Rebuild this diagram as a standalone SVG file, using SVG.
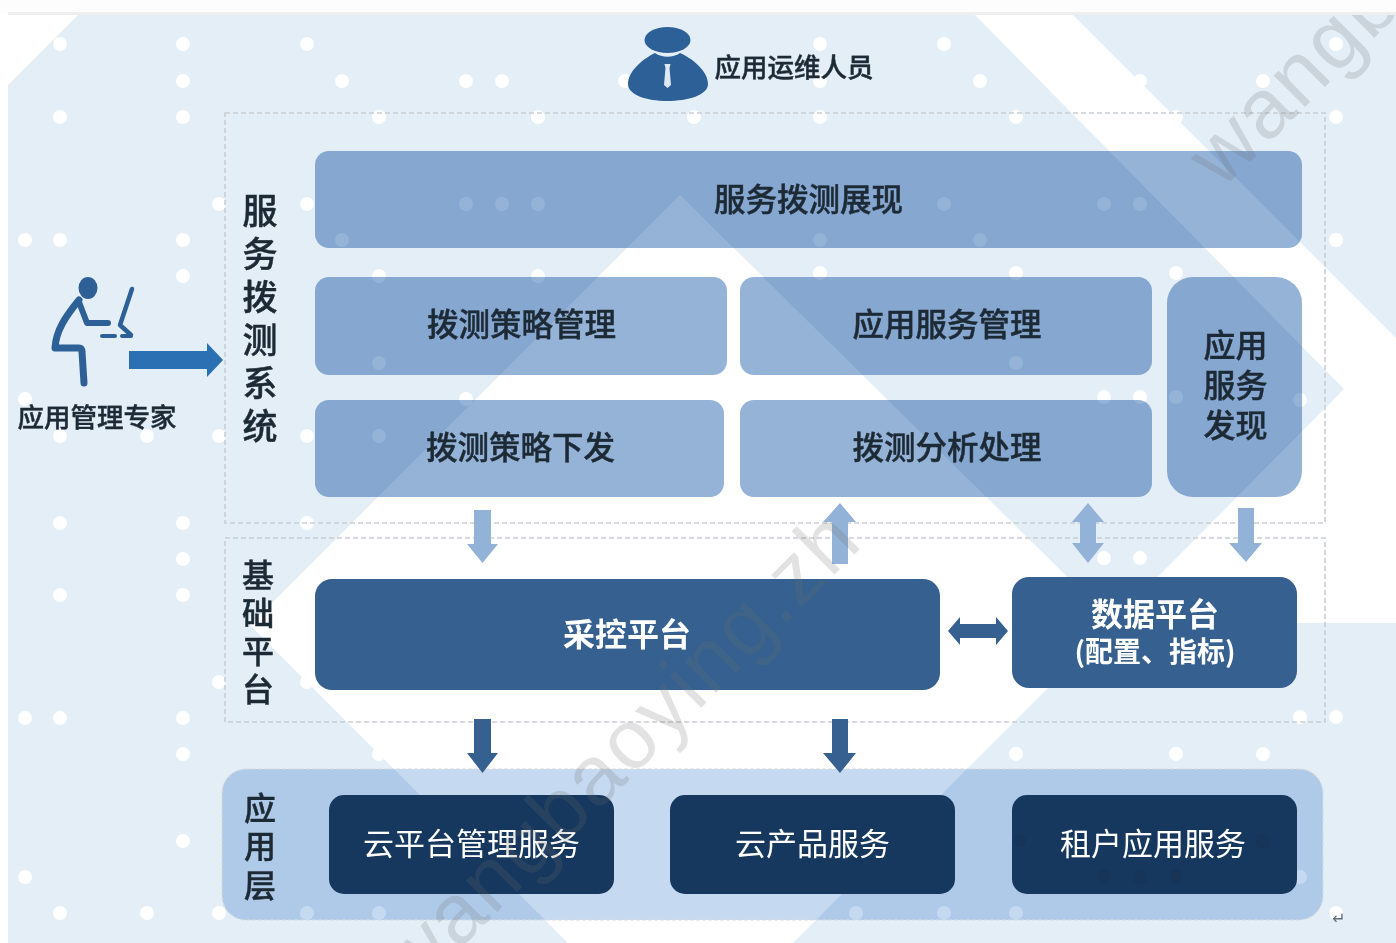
<svg xmlns="http://www.w3.org/2000/svg" width="1396" height="943" viewBox="0 0 1396 943">
<style>
text{font-family:"Noto Sans CJK SC","Noto Sans",sans-serif;text-anchor:middle}
.d{fill:#1f2a36;font-weight:500;stroke:#1f2a36;stroke-width:.45}
.w{fill:#fff}
.b{font-weight:700}
.lb{fill:#95b3d7;mix-blend-mode:multiply}
.mid{fill:#36618f}
.dark{fill:#17375e}
.frame{fill:none;stroke:#c9ced3;stroke-width:1.6;stroke-dasharray:5 3}
.ar1{fill:#93b2d8}
.ar2{fill:#36618f}
.icon{fill:#2f6198}
.ln{fill:none;stroke:#2f6198;stroke-linecap:round;stroke-linejoin:round}
.wm{font-family:"Liberation Sans",Arial,sans-serif;fill:#6d6d6d;fill-opacity:.2;text-anchor:start;letter-spacing:2.2px}
.spot{fill:#183459}
</style>
<defs>
<clipPath id="pg"><rect x="8" y="15" width="1388" height="928"/></clipPath>
<filter id="soft" x="0" y="0" width="100%" height="100%"><feGaussianBlur stdDeviation="0.55"/></filter>
</defs>
<g filter="url(#soft)">
<rect width="1396" height="943" fill="#fff"/>
<g id="background">
<rect x="0" y="0" width="1396" height="13" fill="#fdfdfd"/>
<rect x="8" y="12" width="1388" height="3" fill="#eeeeee"/>
<rect x="8" y="15" width="1388" height="928" fill="#e3eef7"/>
<g fill="#fff" clip-path="url(#pg)">
<polygon points="8,15 78,15 8,85"/>
<polygon points="680,195 250,625 568,943 793,943 1113,623 1396,623 1396,338 1073,15 975,15 1344,389 1113,622"/>
<g id="dots">
<circle r="7" cx="60" cy="44"/><circle r="7" cx="183" cy="44"/><circle r="7" cx="307" cy="44"/><circle r="7" cx="820" cy="44"/><circle r="7" cx="944" cy="44"/><circle r="7" cx="1336" cy="44"/>
<circle r="7" cx="183" cy="81"/><circle r="7" cx="342" cy="81"/><circle r="7" cx="466" cy="81"/><circle r="7" cx="502" cy="81"/><circle r="7" cx="625" cy="81"/><circle r="7" cx="820" cy="81"/><circle r="7" cx="980" cy="81"/><circle r="7" cx="1140" cy="81"/><circle r="7" cx="1263" cy="81"/>
<circle r="7" cx="60" cy="117"/><circle r="7" cx="183" cy="117"/><circle r="7" cx="379" cy="117"/><circle r="7" cx="538" cy="117"/><circle r="7" cx="694" cy="117"/><circle r="7" cx="820" cy="117"/><circle r="7" cx="1016" cy="117"/><circle r="7" cx="1176" cy="117"/><circle r="7" cx="1336" cy="117"/>
<circle r="7" cx="219" cy="204"/><circle r="7" cx="307" cy="204"/><circle r="7" cx="466" cy="204"/><circle r="7" cx="502" cy="204"/><circle r="7" cx="538" cy="204"/><circle r="7" cx="944" cy="204"/><circle r="7" cx="1104" cy="204"/><circle r="7" cx="1140" cy="204"/>
<circle r="7" cx="25" cy="240"/><circle r="7" cx="60" cy="240"/><circle r="7" cx="183" cy="240"/><circle r="7" cx="342" cy="240"/><circle r="7" cx="820" cy="240"/><circle r="7" cx="980" cy="240"/><circle r="7" cx="1336" cy="240"/>
<circle r="7" cx="183" cy="276"/><circle r="7" cx="379" cy="276"/><circle r="7" cx="538" cy="276"/><circle r="7" cx="820" cy="273"/><circle r="7" cx="1016" cy="273"/><circle r="7" cx="1176" cy="273"/>
<circle r="7" cx="379" cy="363"/><circle r="7" cx="1016" cy="363"/>
<circle r="7" cx="25" cy="399"/><circle r="7" cx="466" cy="399"/><circle r="7" cx="1104" cy="397"/><circle r="7" cx="1140" cy="397"/><circle r="7" cx="1176" cy="397"/><circle r="7" cx="1300" cy="400"/>
<circle r="7" cx="60" cy="436"/><circle r="7" cx="147" cy="436"/><circle r="7" cx="219" cy="436"/><circle r="7" cx="307" cy="436"/><circle r="7" cx="379" cy="436"/>
<circle r="7" cx="60" cy="523"/><circle r="7" cx="183" cy="523"/><circle r="7" cx="307" cy="523"/>
<circle r="7" cx="183" cy="559"/><circle r="7" cx="1104" cy="558"/><circle r="7" cx="1140" cy="558"/>
<circle r="7" cx="60" cy="595"/><circle r="7" cx="183" cy="595"/>
<circle r="7" cx="219" cy="682"/><circle r="7" cx="307" cy="682"/>
<circle r="7" cx="25" cy="718"/><circle r="7" cx="60" cy="718"/><circle r="7" cx="183" cy="718"/><circle r="7" cx="1300" cy="717"/><circle r="7" cx="1336" cy="717"/>
<circle r="7" cx="183" cy="754"/><circle r="7" cx="379" cy="754"/><circle r="7" cx="1016" cy="754"/><circle r="7" cx="1176" cy="754"/><circle r="7" cx="1263" cy="754"/>
<circle r="7" cx="183" cy="841"/>
<circle r="7" cx="25" cy="877"/><circle r="7" cx="1300" cy="877"/>
<circle r="7" cx="60" cy="913"/><circle r="7" cx="147" cy="913"/><circle r="7" cx="219" cy="913"/><circle r="7" cx="307" cy="913"/><circle r="7" cx="379" cy="913"/><circle r="7" cx="856" cy="913"/><circle r="7" cx="944" cy="913"/><circle r="7" cx="1016" cy="913"/><circle r="7" cx="1336" cy="913"/>
</g>
</g>
</g>
<g id="frame-probe"><rect class="frame" x="225" y="113" width="1100" height="410"/><text class="d" font-size="35"><tspan x="260" y="224">服</tspan><tspan x="260" y="267">务</tspan><tspan x="260" y="310">拨</tspan><tspan x="260" y="353">测</tspan><tspan x="260" y="396">系</tspan><tspan x="260" y="439">统</tspan></text></g>
<g id="frame-platform"><rect class="frame" x="225" y="538" width="1100" height="184"/><text class="d" font-size="32"><tspan x="258" y="587">基</tspan><tspan x="258" y="625">础</tspan><tspan x="258" y="663">平</tspan><tspan x="258" y="701">台</tspan></text></g>
<g id="app-layer"><rect x="222" y="769" width="1101" height="151" rx="24" fill="#c5d9f1" style="mix-blend-mode:multiply"/><rect x="222" y="769" width="1101" height="151" rx="24" fill="none" stroke="#d9dcdc" stroke-width="1.2" stroke-dasharray="4 2"/><text class="d" font-size="32"><tspan x="260" y="820">应</tspan><tspan x="260" y="858">用</tspan><tspan x="260" y="897">层</tspan></text></g>
<g id="node-ops"><ellipse class="icon" cx="667.5" cy="40" rx="23" ry="13"/><path class="icon" d="M655 53C662 58 673 58 680 53C695 60 708 72 708 84C708 95 688 101 667 101C647 101 628 95 628 84C628 72 641 60 655 53Z"/><path fill="#dfe9f3" d="M664.500 64H670.500L669.500 68L671 85L667.500 88L664 85L665.500 68Z"/><text class="d" font-size="26.500" x="794" y="77">应用运维人员</text></g>
<g id="node-expert"><ellipse class="icon" cx="88" cy="288" rx="9.500" ry="11"/><path class="ln" stroke-width="7" d="M79 300C66 316 56 330 55 348H79Q82 348 82 352L84 383"/><path class="ln" stroke-width="6" d="M79 302L87 323H108"/><path class="ln" stroke-width="4" d="M102 336H115M122 336H131"/><path class="ln" stroke-width="4.500" d="M132 289L120 325L131 335"/><text class="d" font-size="26.500" x="97" y="427">应用管理专家</text></g>
<g id="node-display"><rect class="lb" x="315" y="151" width="987" height="97" rx="14"/><text class="d" font-size="31.500" x="808.500" y="211">服务拨测展现</text></g>
<g id="node-strategy"><rect class="lb" x="315" y="277" width="412" height="98" rx="14"/><text class="d" font-size="31.500" x="521.500" y="336">拨测策略管理</text></g>
<g id="node-appsvc"><rect class="lb" x="740" y="277" width="412" height="98" rx="14"/><text class="d" font-size="31.500" x="947" y="336">应用服务管理</text></g>
<g id="node-dispatch"><rect class="lb" x="315" y="400" width="409" height="97" rx="14"/><text class="d" font-size="31.500" x="520.500" y="459">拨测策略下发</text></g>
<g id="node-analysis"><rect class="lb" x="740" y="400" width="412" height="97" rx="14"/><text class="d" font-size="31.500" x="947" y="459">拨测分析处理</text></g>
<g id="node-discovery"><rect class="lb" x="1167" y="277" width="135" height="220" rx="26"/><text class="d" font-size="32"><tspan x="1235.500" y="357">应用</tspan><tspan x="1235.500" y="397">服务</tspan><tspan x="1235.500" y="437">发现</tspan></text></g>
<g id="node-control"><rect class="mid" x="315" y="579" width="625" height="111" rx="17"/><text class="w b" font-size="32" x="627" y="646">采控平台</text></g>
<g id="node-data"><rect class="mid" x="1012" y="577" width="285" height="111" rx="17"/><text class="w b" font-size="32" x="1155" y="626">数据平台</text><text class="w b" font-size="28" x="1155" y="662">(配置、指标)</text></g>
<g id="node-cloud"><rect class="dark" x="329" y="795" width="285" height="99" rx="15"/><text class="w" font-size="31" x="471.500" y="855">云平台管理服务</text></g>
<g id="node-product"><rect class="dark" x="670" y="795" width="285" height="99" rx="15"/><text class="w" font-size="31" x="812.500" y="855">云产品服务</text></g>
<g id="node-tenant"><rect class="dark" x="1012" y="795" width="285" height="99" rx="15"/><circle class="spot" r="6" cx="1020" cy="841"/><circle class="spot" r="7" cx="1263" cy="841"/><circle class="spot" r="7" cx="1104" cy="877"/><circle class="spot" r="7" cx="1140" cy="877"/><circle class="spot" r="7" cx="1176" cy="877"/><text class="w" font-size="31" x="1153" y="855">租户应用服务</text></g>
<g id="connectors">
<polygon fill="#2b70b2" points="129,351 207,351 207,343 223,360 207,377 207,369 129,369"/>
<polygon class="ar1" points="474,510 491,510 491,544 498,544 482.500,563 467,544 474,544"/>
<polygon class="ar1" points="832,564 848,564 848,522 856,522 840,503 823,522 832,522"/>
<polygon class="ar1" points="1080,522 1096,522 1096,543 1104,543 1088,563 1072,543 1080,543 1080,522 1072,522 1088,503 1104,522"/>
<polygon class="ar1" points="1238,508 1254,508 1254,543 1262,543 1246,562 1229,543 1238,543"/>
<polygon class="ar2" points="474,719 491,719 491,753 498,753 482.500,773 467,753 474,753"/>
<polygon class="ar2" points="832,719 848,719 848,753 856,753 840,773 823,753 832,753"/>
<polygon class="ar2" points="948,631 960,617 960,624 996,624 996,617 1008,631 996,645 996,638 960,638 960,645"/>
</g>
<g id="watermark" clip-path="url(#pg)">
<text class="wm" font-size="84" transform="translate(414,995) rotate(-45)">wangbaoying.zh</text>
<text class="wm" font-size="84" transform="translate(1222,190) rotate(-45)">wangb</text>
</g>
<text x="1339" y="924" font-size="16" style="font-family:'DejaVu Sans',sans-serif" fill="#5f6b78">↵</text>
</g>
</svg>
